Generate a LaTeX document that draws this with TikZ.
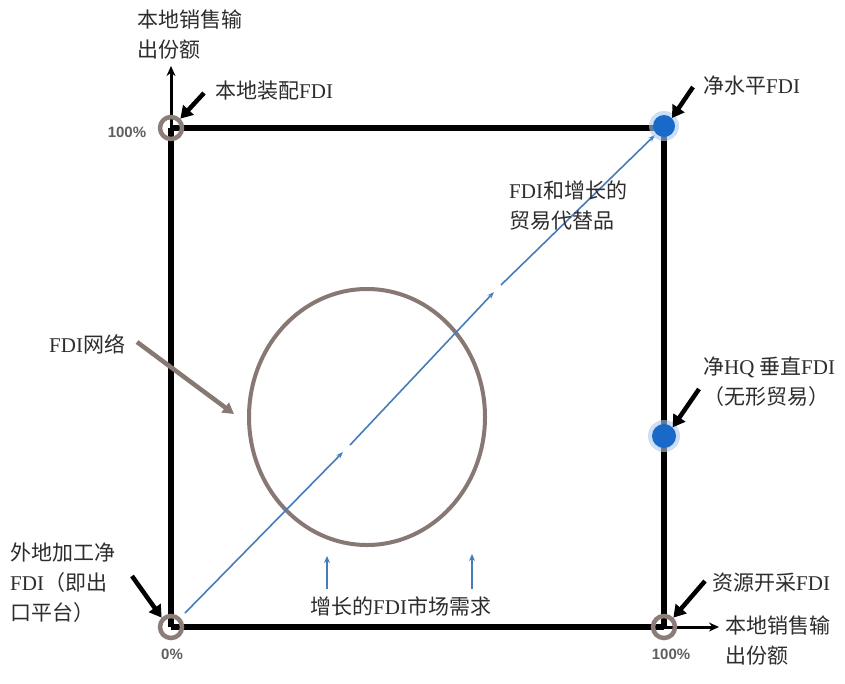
\documentclass[tikz,border=0pt]{standalone}
\usepackage{fontspec}
\setmainfont{Liberation Serif}
\newfontfamily\cjk{Noto Sans CJK SC}
\newfontfamily\serifen{Liberation Serif}
\newfontfamily\labfont{Liberation Sans}
\usetikzlibrary{arrows.meta}
\definecolor{ringgrey}{RGB}{140,125,120}
\definecolor{circgrey}{RGB}{135,120,115}
\definecolor{diagblue}{RGB}{70,125,185}
\definecolor{dotblue}{RGB}{25,105,200}
\definecolor{txt}{RGB}{45,45,45}
\definecolor{pctgrey}{RGB}{95,95,95}
\newcommand\fdi{{\serifen FDI}}
\newcommand\latn[1]{{\serifen #1}}
\begin{document}
\begin{tikzpicture}[x=1pt,y=-1pt,
  lbl/.style={anchor=north west,inner sep=0pt,align=left,text=txt,font=\cjk\fontsize{21}{30}\selectfont},
  pct/.style={inner sep=0pt,text=pctgrey,font=\labfont\bfseries\fontsize{15}{16}\selectfont},
  boxline/.style={line width=5.5pt},
  axisarrow/.style={line width=3pt,-{Stealth[length=10pt,width=9pt]}},
  pointer/.style={line width=4.5pt,-{Triangle[length=12pt,width=14pt]}},
  ring/.style={draw=ringgrey,line width=4.5pt,circle,minimum size=22pt,inner sep=0pt},
  bluedot/.style={circle,fill=dotblue,minimum size=22pt,inner sep=0pt},
  diag/.style={draw=diagblue,line width=1.6pt,-{Stealth[length=7pt,width=5pt]}},
  smallup/.style={draw=diagblue,line width=1.8pt,-{Stealth[length=7pt,width=6pt]}}
]
\useasboundingbox (0,0) rectangle (845,683);
\fill[white] (0,0) rectangle (845,683);

% corners
\coordinate (O) at (171,627);
\coordinate (TL) at (171,128);
\coordinate (TR) at (664,128);
\coordinate (BR) at (664,627);
\coordinate (YT) at (171,66);
\coordinate (XR) at (719,627);

% big circle
\draw[circgrey,line width=4pt] (367,417) ellipse [x radius=118, y radius=128];

% diagonal
\coordinate (d1a) at (185,613); \coordinate (d1b) at (343,452);
\coordinate (d2a) at (350,445); \coordinate (d2b) at (494,292);
\coordinate (d3a) at (501,285); \coordinate (d3b) at (655,135);
\draw[diag] (d1a) -- (d1b);
\draw[diag] (d2a) -- (d2b);
\draw[diag] (d3a) -- (d3b);

% box
\draw[boxline] (TL) -- (TR) -- (BR);
\draw[axisarrow] (O) -- (YT);
\draw[boxline] (O) -- (TL);
\draw[axisarrow] (O) -- (XR);
\draw[boxline] (O) -- (BR);

% markers
\node[ring] (rTL) at (TL) {};
\node[ring] (rO) at (O) {};
\node[ring] (rBR) at (BR) {};
\fill[dotblue!35,opacity=0.6] (664,126) circle (15);
\node[bluedot] (dTR) at (664,126) {};
\fill[dotblue!35,opacity=0.6] (664,436) circle (16);
\node[bluedot,minimum size=24pt] (dHQ) at (664,436) {};

% small up arrows
\coordinate (u1a) at (327,589); \coordinate (u1b) at (327,556);
\coordinate (u2a) at (472,589); \coordinate (u2b) at (472,554);
\draw[smallup] (u1a) -- (u1b);
\draw[smallup] (u2a) -- (u2b);

% labels
\node[lbl] (ytop) at (137,10) {本地销售输\\出份额};
\node[lbl] (lzp) at (215,81) {本地装配\fdi};
\node[lbl] (jsp) at (703,76) {净水平\fdi};
\node[lbl] (mys) at (509,181) {\fdi 和增长的\\贸易代替品};
\node[lbl] (net) at (49,334) {\fdi 网络};
\node[lbl] (hq) at (703,357) {净\latn{HQ} 垂直\fdi\\（无形贸易）};
\node[lbl] (wd) at (10,543) {外地加工净\\\fdi（即出\\口平台）};
\node[lbl] (zy) at (712,573) {资源开采\fdi};
\node[lbl] (xr) at (725,616) {本地销售输\\出份额};
\node[lbl] (sc) at (310,596) {增长的\fdi 市场需求};

\node[pct] (p100a) at (127,132) {100\%};
\node[pct] (p0) at (172,654) {0\%};
\node[pct] (p100b) at (671,654) {100\%};

% pointer arrows
\coordinate (a1) at (204,93);
\coordinate (a2) at (693,87);
\coordinate (a3) at (699,389);
\coordinate (a4) at (705,581);
\coordinate (a5) at (132,576);
\draw[pointer] (a1) -- (rTL.north east);
\draw[pointer] (a2) -- (dTR.north east);
\draw[pointer] (a3) -- (dHQ.north east);
\draw[pointer] (a4) -- (rBR.north east);
\draw[pointer] (a5) -- (rO.north west);
\coordinate (n1) at (137,342);
\coordinate (n2) at (234,414);
\draw[circgrey,line width=4.5pt,-{Triangle[length=11pt,width=12pt]}] (n1) -- (n2);
\end{tikzpicture}
\end{document}
